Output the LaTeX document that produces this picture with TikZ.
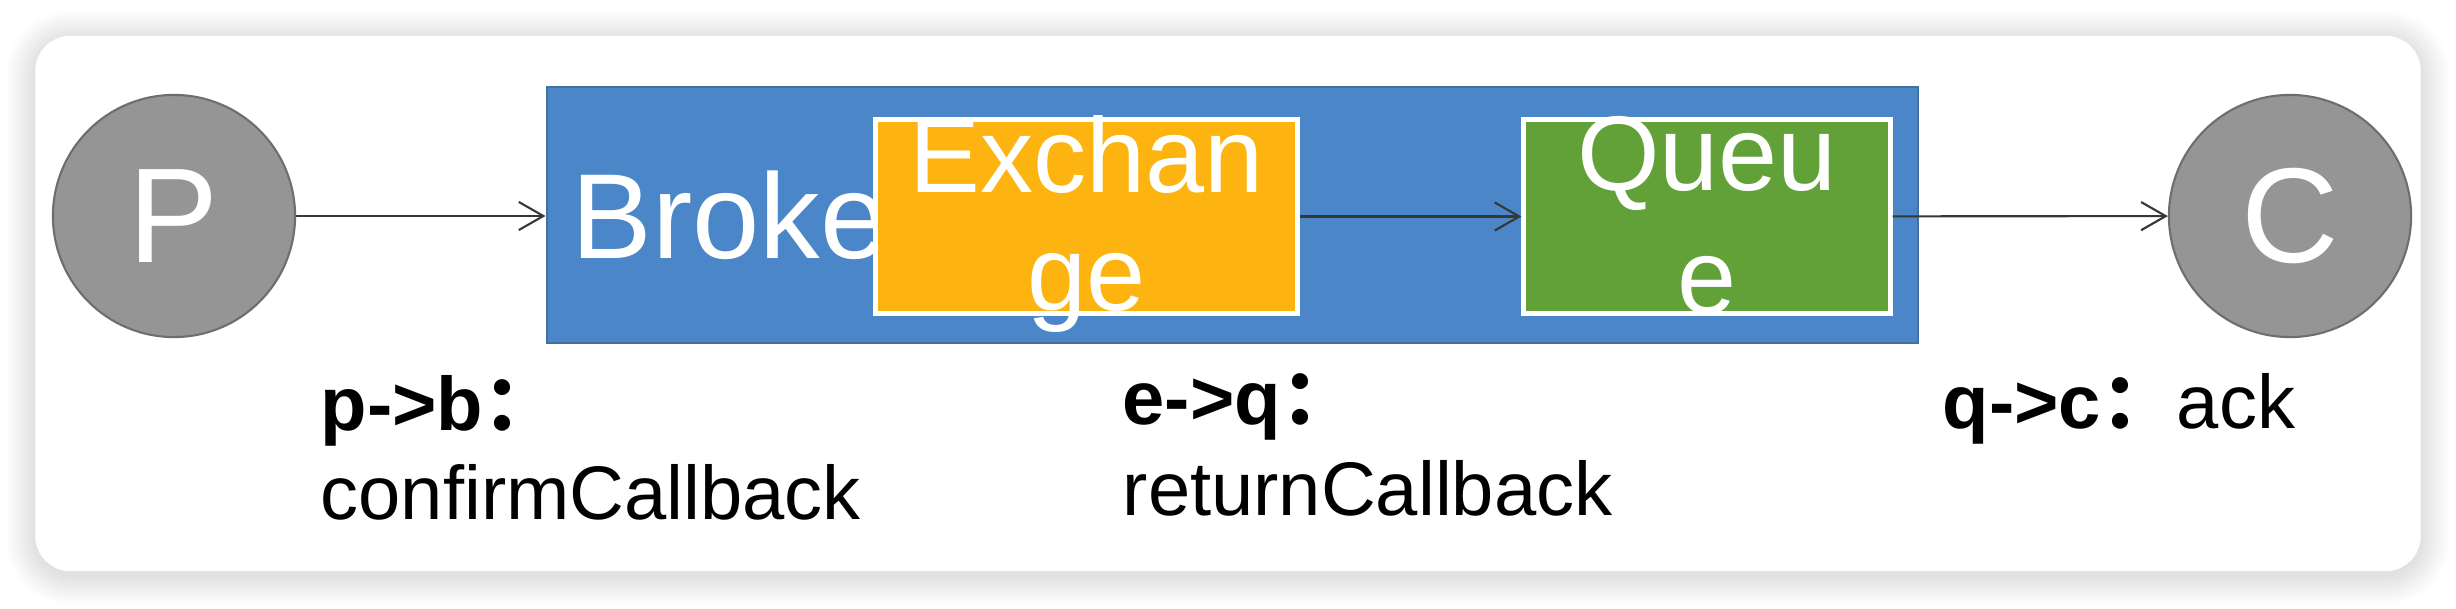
\documentclass[tikz,border=0pt]{standalone}
\usepackage{fontspec}
\setmainfont{Liberation Sans}
\newfontfamily\cjk{Noto Sans CJK SC}
\usetikzlibrary{arrows.meta,positioning}
\definecolor{pgray}{RGB}{149,149,149}
\definecolor{pgrayline}{RGB}{110,110,110}
\definecolor{brokerblue}{RGB}{74,134,200}
\definecolor{brokerline}{RGB}{65,113,156}
\definecolor{exorange}{RGB}{253,180,16}
\definecolor{qgreen}{RGB}{98,161,56}
\definecolor{arrgray}{RGB}{55,55,55}

\begin{document}
\begin{tikzpicture}[x=0.01cm, y=0.01cm,
      card/.style={fill=white, rounded corners=0.35cm,
                   minimum width=23.84cm, minimum height=5.35cm, inner sep=0pt},
      party/.style={circle, draw=pgrayline, line width=0.6pt, fill=pgray,
                    minimum size=2.42cm, inner sep=0pt, text=white,
                    font={\fontsize{38.4}{40}\selectfont}},
      broker/.style={draw=brokerline, line width=0.6pt, fill=brokerblue,
                     minimum width=13.71cm, minimum height=2.56cm, inner sep=0pt},
      inbox/.style={draw=white, line width=1.4pt, minimum height=1.93cm, inner sep=0pt},
      big/.style={text=white, inner sep=0pt, anchor=base,
                  font={\fontsize{30.2}{34}\selectfont}},
      lbl/.style={anchor=base west, inner sep=0pt,
                  font={\fontsize{21.6}{25}\selectfont}},
      arr/.style={-{Straight Barb[length=7pt, width=8pt]}, line width=0.6pt, color=arrgray}
  ]
    \useasboundingbox (0,0) rectangle (2456,608);
    \foreach \s [evaluate=\s as \r using 0.35+0.01*\s] in {1,...,30}
      \fill[black, opacity=0.005, rounded corners=\r cm] ({36-\s},{33-\s}) rectangle ({2420+\s},{568+\s});
    \node[card] (card) at (1228,304.5) {};

    \node[party] (P) at (174,392) {P};
    \node[party] (C) at (2290,392) {C};

    \node[broker] (broker) at (1232.5,393) {};
    \node[text=white, anchor=base west, inner sep=0pt,
          font={\fontsize{34.4}{40}\selectfont}] (brokertxt) at (571,350) {Broke};
    \node[inbox, fill=exorange, minimum width=4.21cm] (exchange) at (1086.5,391.5) {};
    \node[big] (ex1) at (1086.5,416) {Exchan};
    \node[big] (ex2) at (1086.5,298) {ge};
    \node[inbox, fill=qgreen, minimum width=3.66cm] (queue) at (1707,391.5) {};
    \node[big] (q1) at (1707,418) {Queu};
    \node[big] (q2) at (1707,295) {e};

    \draw[arr] (P) -- (broker.west |- P);
    \draw[arr] (exchange) -- (queue);
    \draw[arr] (queue) -- (C);

    \node[lbl] (pb) at (320,178) {\textbf{p->b{\cjk ：}}};
    \node[lbl] (pbtxt) at ([yshift=-0.89cm]pb.base west) {confirmCallback};
    \node[lbl] (eq) at (1122,184) {\textbf{e->q{\cjk ：}}};
    \node[lbl] (eqtxt) at ([yshift=-0.915cm]eq.base west) {returnCallback};
    \node[lbl] (qc) at (1942,180) {\textbf{q->c{\cjk ：}}ack};
  \end{tikzpicture}
\end{document}
